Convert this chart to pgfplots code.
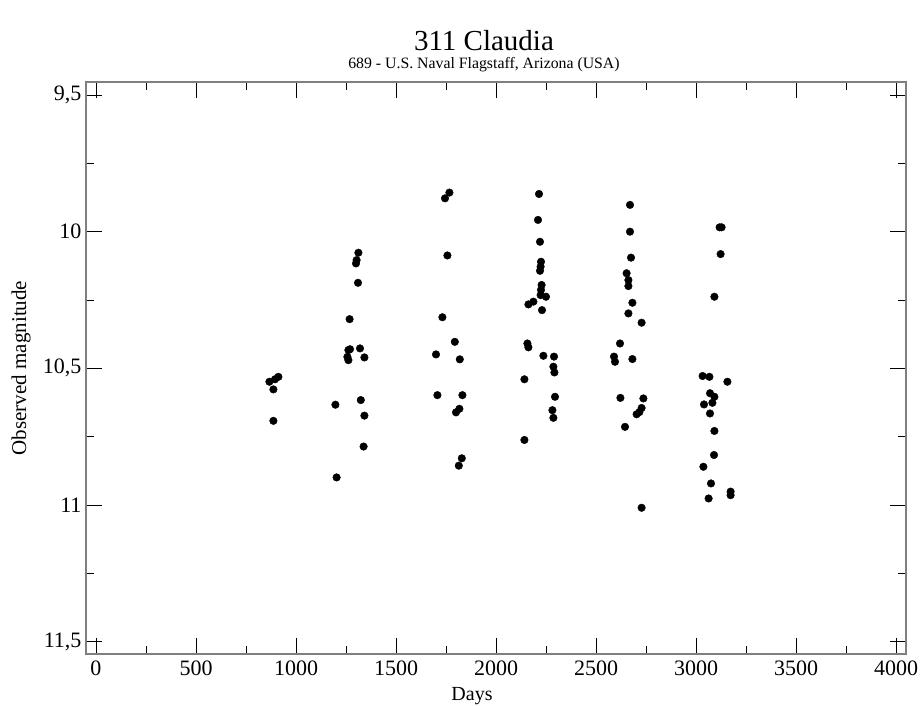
\documentclass[border=0pt]{standalone}
\usepackage{pgfplots}
\pgfplotsset{compat=1.18}
\usepackage{fontspec}
\setmainfont{Liberation Serif}
\begin{document}
\begin{tikzpicture}
\begin{axis}[
  scale only axis,
  width=820pt, height=572pt,
  xmin=-50, xmax=4050,
  ymin=9.4524, ymax=11.545,
  y dir=reverse,
  axis line style={draw=black!50, line width=1.6pt},
  xtick={0,500,...,4000},
  ytick={9.5,10,10.5,11,11.5},
  yticklabels={{9,5},{10},{10,5},{11},{11,5}},
  minor x tick num=1,
  minor y tick num=1,
  tick align=inside,
  major tick length=16pt,
  minor tick length=8pt,
  tick style={black, line width=0.9pt},
  xtick pos=both, ytick pos=both,
  /pgf/number format/assume math mode=true,
  /pgf/number format/1000 sep={},
  ticklabel style={font=\fontsize{22}{24}\selectfont},
  xticklabel style={yshift=-3pt},
  yticklabel style={xshift=-1pt},
]
\addplot[only marks, mark=*, mark size=3.8pt, black] coordinates {
(867,10.549) (887,10.577) (895,10.540) (912,10.531) (887,10.692)
(1197,10.633) (1203,10.899) (1257,10.458) (1262,10.433) (1262,10.470)
(1268,10.320) (1270,10.430) (1300,10.116) (1303,10.104) (1310,10.187)
(1312,10.077) (1320,10.427) (1324,10.616) (1338,10.786) (1342,10.460)
(1342,10.673)
(1700,10.449) (1707,10.598) (1732,10.313) (1745,9.878) (1757,10.087)
(1767,9.857) (1794,10.403) (1800,10.661) (1814,10.856) (1817,10.648)
(1819,10.467) (1829,10.829) (1832,10.598)
(2142,10.540) (2142,10.762) (2157,10.409) (2162,10.423) (2162,10.266)
(2187,10.256) (2210,9.957) (2215,9.862) (2220,10.037) (2220,10.143)
(2223,10.128) (2223,10.232) (2225,10.110) (2225,10.213) (2228,10.195)
(2230,10.287) (2237,10.454) (2250,10.238) (2282,10.653) (2287,10.494)
(2287,10.681) (2290,10.457) (2292,10.515) (2295,10.604)
(2590,10.457) (2595,10.476) (2620,10.409) (2622,10.608) (2645,10.714)
(2653,10.152) (2662,10.177) (2662,10.199) (2662,10.299) (2670,9.902)
(2670,10.0) (2675,10.095) (2682,10.260) (2682,10.466) (2703,10.668)
(2717,10.660) (2728,10.333) (2728,10.645) (2737,10.610) (2728,11.010)
(3033,10.528) (3037,10.860) (3040,10.632) (3063,10.976) (3067,10.531)
(3070,10.591) (3070,10.665) (3075,10.921) (3082,10.626) (3090,10.817)
(3092,10.604) (3092,10.729) (3092,10.238) (3118,9.984) (3128,9.984)
(3123,10.082) (3157,10.549) (3173,10.951) (3173,10.964)
};
\end{axis}
\node[anchor=base, font=\fontsize{29}{32}\selectfont] at ([shift={(398pt,31pt)}]current axis.north west) {311 Claudia};
\node[anchor=base, font=\fontsize{15.8}{18}\selectfont] at ([shift={(398pt,13pt)}]current axis.north west) {689 - U.S. Naval Flagstaff, Arizona (USA)};
\node[anchor=base, font=\fontsize{20}{22}\selectfont] at ([shift={(386pt,-47pt)}]current axis.south west) {Days};
\node[rotate=90, font=\fontsize{21}{23}\selectfont] at ([shift={(-65pt,286pt)}]current axis.south west) {Observed magnitude};
\pgfresetboundingbox
\path[use as bounding box] ([shift={(-86pt,-52pt)}]current axis.south west) rectangle ([shift={(15pt,82pt)}]current axis.north east);
\end{tikzpicture}
\end{document}
